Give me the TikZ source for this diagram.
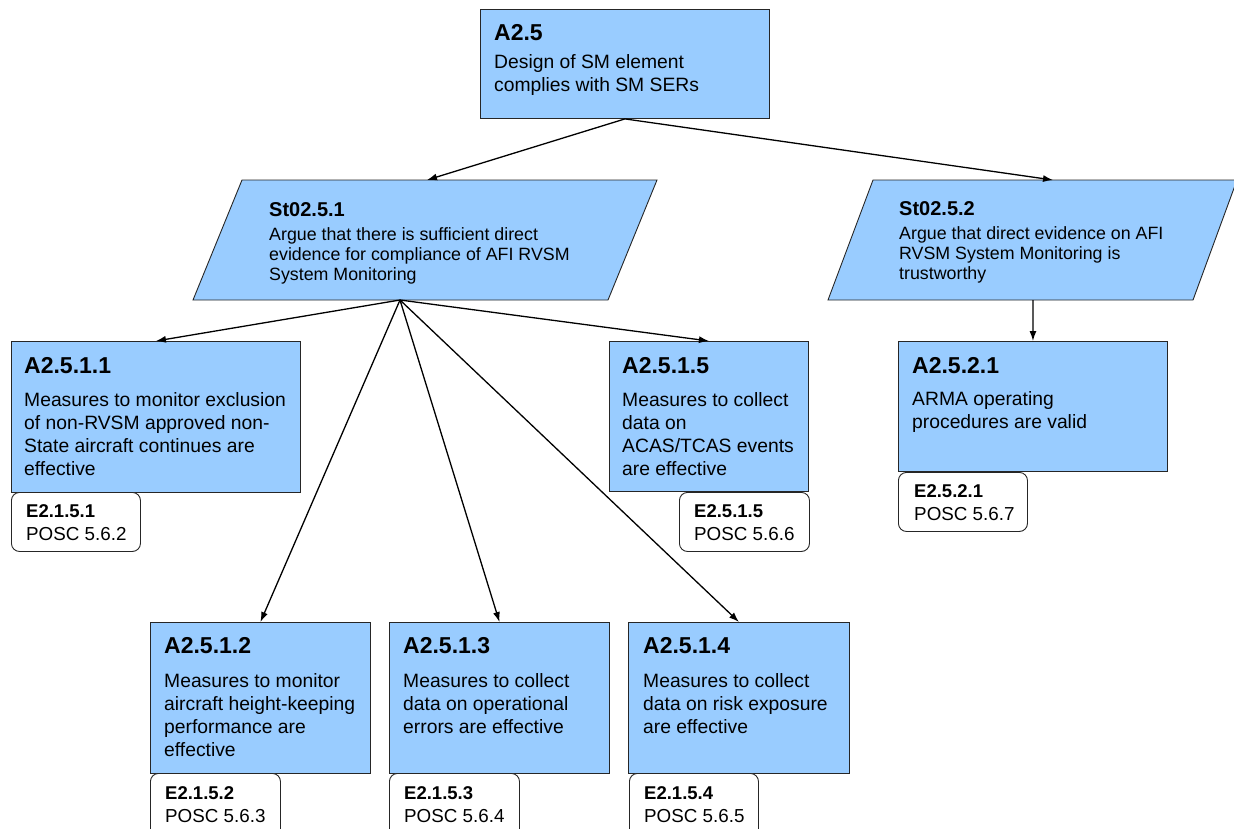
\documentclass[tikz,border=0pt]{standalone}
\usepackage{fontspec}
\setmainfont{Liberation Sans}
\usetikzlibrary{arrows.meta}
\definecolor{boxblue}{RGB}{153,204,255}
\newcommand\mylines[1]{\vtop{\halign{##\hfil\cr#1\crcr}}}
\tikzset{
  abox/.style={draw=black!85, fill=boxblue, line width=0.9pt, anchor=north west, inner sep=0pt},
  ebox/.style={draw=black!85, fill=white, rounded corners=8pt, line width=0.9pt, anchor=north west, inner sep=0pt},
  pbox/.style={draw=black!85, fill=boxblue, line width=0.9pt},
  ttl/.style={anchor=base west, inner sep=0pt, font=\fontsize{23}{26}\selectfont\bfseries},
  bodytxt/.style={anchor=base west, inner sep=0pt, font=\fontsize{19.3}{23.3}\selectfont},
  sttl/.style={anchor=base west, inner sep=0pt, font=\fontsize{20}{23}\selectfont\bfseries},
  sbody/.style={anchor=base west, inner sep=0pt, font=\fontsize{17.8}{20.2}\selectfont},
  ettl/.style={anchor=base west, inner sep=0pt, font=\fontsize{18.5}{21}\selectfont\bfseries},
  ebody/.style={anchor=base west, inner sep=0pt, font=\fontsize{18.8}{21}\selectfont},
  arr/.style={draw=black, line width=1.3pt, -{Latex[length=10pt,width=7pt]}}
}
\begin{document}
\begin{tikzpicture}[x=1pt,y=-1pt]
\useasboundingbox (0,0) rectangle (1234,828);

% top goal
\node[abox, minimum width=289, minimum height=109] (a25) at (480,9) {};
\node[ttl] (a25t) at (494,40) {A2.5};
\node[bodytxt] (a25b) at (494,68.5) {\mylines{Design of SM element\cr complies with SM SERs}};

% strategies
\draw[pbox] (242,180) -- (657,180) -- (608,300) -- (193,300) -- cycle;
\coordinate (s1top) at (427,180);
\coordinate (s1bot) at (400,300);
\node[sttl] (s1t) at (269,216.5) {St02.5.1};
\node[sbody] (s1b) at (269,240.5) {\mylines{Argue that there is sufficient direct\cr evidence for compliance of AFI RVSM\cr System Monitoring}};

\draw[pbox] (873,180) -- (1237,180) -- (1193,300) -- (828,300) -- cycle;
\coordinate (s2top) at (1053,180);
\coordinate (s2bot) at (1033,300);
\node[sttl] (s2t) at (899,215.5) {St02.5.2};
\node[sbody] (s2b) at (899,239.5) {\mylines{Argue that direct evidence on AFI\cr RVSM System Monitoring is\cr trustworthy}};

% middle row goals
\node[abox, minimum width=289, minimum height=151] (a2511) at (11,341) {};
\node[ttl] (a2511t) at (24,373) {A2.5.1.1};
\node[bodytxt] (a2511b) at (24,406) {\mylines{Measures to monitor exclusion\cr of non-RVSM approved non-\cr State aircraft continues are\cr effective}};
\node[ebox, minimum width=129, minimum height=59] (e2151) at (11,492) {};
\node[ettl] (e2151t) at (26,517.5) {E2.1.5.1};
\node[ebody] (e2151b) at (26,540.5) {POSC 5.6.2};

\node[abox, minimum width=199, minimum height=150] (a2515) at (609,341) {};
\node[ttl] (a2515t) at (622,373) {A2.5.1.5};
\node[bodytxt] (a2515b) at (622,406) {\mylines{Measures to collect\cr data on\cr ACAS/TCAS events\cr are effective}};
\node[ebox, minimum width=130, minimum height=59] (e2515) at (679,492) {};
\node[ettl] (e2515t) at (694,517.5) {E2.5.1.5};
\node[ebody] (e2515b) at (694,540.5) {POSC 5.6.6};

\node[abox, minimum width=269, minimum height=130] (a2521) at (898,341) {};
\node[ttl] (a2521t) at (912,373) {A2.5.2.1};
\node[bodytxt] (a2521b) at (912,405) {\mylines{ARMA operating\cr procedures are valid}};
\node[ebox, minimum width=129, minimum height=59] (e2521) at (898,472) {};
\node[ettl] (e2521t) at (914,497) {E2.5.2.1};
\node[ebody] (e2521b) at (914,520) {POSC 5.6.7};

% bottom row goals
\node[abox, minimum width=220, minimum height=151] (a2512) at (150,622) {};
\node[ttl] (a2512t) at (164,653) {A2.5.1.2};
\node[bodytxt] (a2512b) at (164,687) {\mylines{Measures to monitor\cr aircraft height-keeping\cr performance are\cr effective}};
\node[ebox, minimum width=130, minimum height=70] (e2152) at (150,773) {};
\node[ettl] (e2152t) at (165,799) {E2.1.5.2};
\node[ebody] (e2152b) at (165,822) {POSC 5.6.3};

\node[abox, minimum width=220, minimum height=151] (a2513) at (389,622) {};
\node[ttl] (a2513t) at (403,653) {A2.5.1.3};
\node[bodytxt] (a2513b) at (403,687) {\mylines{Measures to collect\cr data on operational\cr errors are effective}};
\node[ebox, minimum width=130, minimum height=70] (e2153) at (389,773) {};
\node[ettl] (e2153t) at (404,799) {E2.1.5.3};
\node[ebody] (e2153b) at (404,822) {POSC 5.6.4};

\node[abox, minimum width=221, minimum height=151] (a2514) at (628,622) {};
\node[ttl] (a2514t) at (643,653) {A2.5.1.4};
\node[bodytxt] (a2514b) at (643,687) {\mylines{Measures to collect\cr data on risk exposure\cr are effective}};
\node[ebox, minimum width=129, minimum height=70] (e2154) at (629,773) {};
\node[ettl] (e2154t) at (644,799) {E2.1.5.4};
\node[ebody] (e2154b) at (644,822) {POSC 5.6.5};

% connectors
\draw[arr] (a25.south) -- (s1top);
\draw[arr] (a25.south) -- (s2top);
\draw[arr] (s1bot) -- (a2511.north);
\draw[arr] (s1bot) -- (a2515.north);
\draw[arr] (s1bot) -- (a2512.north);
\draw[arr] (s1bot) -- (a2513.north);
\draw[arr] (s1bot) -- (a2514.north);
\draw[arr] (s2bot) -- (a2521.north);
\end{tikzpicture}
\end{document}
